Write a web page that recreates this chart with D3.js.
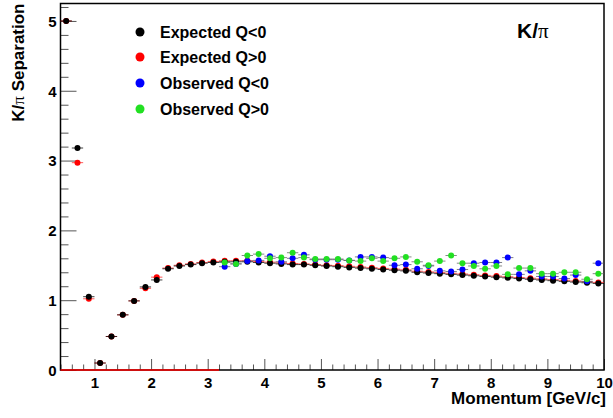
<!DOCTYPE html>
<html>
<head>
<meta charset="utf-8">
<script src="https://cdn.jsdelivr.net/npm/d3@7"></script>
<style>
  html, body { margin: 0; padding: 0; background: #fff; }
  svg { display: block; font-family: "Liberation Sans", Arial, Helvetica, sans-serif; }
</style>
</head>
<body>
<svg id="chart" width="613" height="418"></svg>
<script>
// Bin centres of the momentum histogram [GeV/c]
const momentum = [0.5, 0.7, 0.9, 1.1, 1.3, 1.5, 1.7, 1.9, 2.1, 2.3, 2.5, 2.7, 2.9, 3.1,
  3.3, 3.5, 3.7, 3.9, 4.1, 4.3, 4.5, 4.7, 4.9, 5.1, 5.3, 5.5, 5.7, 5.9, 6.1, 6.3, 6.5,
  6.7, 6.9, 7.1, 7.3, 7.5, 7.7, 7.9, 8.1, 8.3, 8.5, 8.7, 8.9, 9.1, 9.3, 9.5, 9.7, 9.9];
const binHalfWidth = 0.1;

// Expected K/pi separation, negative tracks
const expectedNeg = [5.00, 3.18, 1.05, 0.10, 0.48, 0.79, 0.99, 1.19, 1.29, 1.45, 1.49, 1.51, 1.53, 1.54,
  1.55, 1.55, 1.55, 1.54, 1.53, 1.52, 1.51, 1.51, 1.50, 1.49, 1.48, 1.47, 1.46, 1.45, 1.44, 1.43, 1.42,
  1.40, 1.39, 1.38, 1.37, 1.36, 1.35, 1.34, 1.33, 1.32, 1.31, 1.30, 1.29, 1.28, 1.27, 1.26, 1.25, 1.24];
// Expected K/pi separation, positive tracks
const expectedPos = [5.00, 2.97, 1.02, 0.10, 0.48, 0.79, 0.99, 1.17, 1.33, 1.46, 1.50, 1.52, 1.54, 1.555,
  1.565, 1.565, 1.565, 1.555, 1.545, 1.535, 1.525, 1.52, 1.51, 1.50, 1.495, 1.485, 1.475, 1.465, 1.455, 1.445, 1.435,
  1.415, 1.405, 1.395, 1.385, 1.375, 1.365, 1.355, 1.345, 1.335, 1.325, 1.315, 1.305, 1.295, 1.285, 1.275, 1.265, 1.255];

// Observed separation, available from 3.3 GeV/c upward
const observedMomentum = momentum.slice(14);
const observedNeg = [1.48, 1.52, 1.56, 1.57, 1.63, 1.55, 1.60, 1.65, 1.58, 1.58, 1.58, 1.57, 1.62, 1.62,
  1.61, 1.50, 1.51, 1.45, 1.49, 1.42, 1.41, 1.44, 1.53, 1.54, 1.54, 1.61, 1.37, 1.42, 1.34, 1.34, 1.31, 1.36, 1.27, 1.53];
const observedPos = [1.54, 1.52, 1.64, 1.66, 1.60, 1.61, 1.68, 1.61, 1.59, 1.59, 1.59, 1.57, 1.56, 1.60,
  1.56, 1.60, 1.62, 1.55, 1.50, 1.56, 1.64, 1.53, 1.49, 1.45, 1.49, 1.37, 1.46, 1.46, 1.38, 1.38, 1.40, 1.40, 1.30, 1.38];

// Empty observed bins sit on zero below this momentum
const emptyObservedRange = [0.4, 3.2];

const xDomain = [0.4, 10];
const yDomain = [0, 5.25];
const xTicks = [1, 2, 3, 4, 5, 6, 7, 8, 9, 10];
const yTicks = [0, 1, 2, 3, 4, 5];

const series = [
  { name: "Expected Q<0", color: "#000000", bar: "#000000", x: momentum, y: expectedNeg },
  { name: "Expected Q>0", color: "#ff0000", bar: "#ff2020", x: momentum, y: expectedPos },
  { name: "Observed Q<0", color: "#0000ff", bar: "#505060", x: observedMomentum, y: observedNeg },
  { name: "Observed Q>0", color: "#22e022", bar: "#606060", x: observedMomentum, y: observedPos }
];
// drawing order: red under black, observed on top
const drawOrder = [1, 0, 2, 3];

const svg = d3.select("#chart");
const frame = { left: 60.5, right: 604, top: 3.5, bottom: 370 };

const x = d3.scaleLinear().domain(xDomain).range([frame.left, frame.right]);
const y = d3.scaleLinear().domain(yDomain).range([frame.bottom, frame.top]);

svg.append("rect").attr("width", 613).attr("height", 418).attr("fill", "#fff");

// Axes with inward ticks
const xMinor = d3.range(4, 101, 2).map(v => v / 10).filter(v => v % 1 !== 0);
const yMinor = d3.range(0, 53, 2).map(v => v / 10).filter(v => v % 1 !== 0);

const gx = svg.append("g").attr("transform", `translate(0,${frame.bottom})`);
gx.call(d3.axisBottom(x).tickValues(xMinor).tickSize(-5.5).tickFormat(""))
  .call(g => g.select(".domain").remove());
gx.append("g").call(d3.axisBottom(x).tickValues(xTicks).tickSize(-11).tickPadding(7).tickFormat(d3.format("d")))
  .call(g => g.select(".domain").remove());
gx.selectAll(".tick line").attr("stroke", "#555");
gx.selectAll("text").attr("font-size", 15).attr("font-weight", "bold").attr("fill", "#000");

const gy = svg.append("g").attr("transform", `translate(${frame.left},0)`);
gy.call(d3.axisLeft(y).tickValues(yMinor).tickSize(-8).tickFormat(""))
  .call(g => g.select(".domain").remove());
gy.append("g").call(d3.axisLeft(y).tickValues(yTicks).tickSize(-16).tickPadding(4).tickFormat(d3.format("d")))
  .call(g => g.select(".domain").remove());
gy.selectAll(".tick line").attr("stroke", "#555");
gy.selectAll("text").attr("font-size", 15).attr("font-weight", "bold").attr("fill", "#000")
  .attr("dy", "0.36em");

// Frame
svg.append("rect")
  .attr("x", frame.left).attr("y", frame.top)
  .attr("width", frame.right - frame.left).attr("height", frame.bottom - frame.top)
  .attr("fill", "none").attr("stroke", "#000").attr("stroke-width", 1.5);

// Zero line of the empty observed bins
svg.append("line")
  .attr("x1", x(emptyObservedRange[0])).attr("x2", x(emptyObservedRange[1]))
  .attr("y1", y(0)).attr("y2", y(0))
  .attr("stroke", "#ff0000").attr("stroke-width", 1.6);

// Points with horizontal bin-width error bars
const plot = svg.append("g");
drawOrder.forEach(i => {
  const s = series[i];
  const pts = s.x.map((v, k) => ({ p: v, v: s.y[k] }));
  const g = plot.append("g");
  g.selectAll("line").data(pts).join("line")
    .attr("x1", d => x(d.p - binHalfWidth)).attr("x2", d => x(d.p + binHalfWidth))
    .attr("y1", d => y(d.v)).attr("y2", d => y(d.v))
    .attr("stroke", s.bar).attr("stroke-width", 1).attr("stroke-opacity", 0.75);
  g.selectAll("circle").data(pts).join("circle")
    .attr("cx", d => x(d.p)).attr("cy", d => y(d.v)).attr("r", 3)
    .attr("fill", s.color);
});

// Legend
const legend = svg.append("g");
const legendY = [32, 57, 83, 109];
series.forEach((s, i) => {
  legend.append("circle").attr("cx", 140).attr("cy", legendY[i]).attr("r", 4.5).attr("fill", s.color);
  legend.append("text").attr("x", 160).attr("y", legendY[i]).attr("dy", "0.36em")
    .attr("font-size", 16).attr("font-weight", "bold").text(s.name);
});

// Title label
const title = svg.append("text").attr("x", 517).attr("y", 38)
  .attr("font-size", 21).attr("font-weight", "bold");
title.append("tspan").text("K/");
title.append("tspan").attr("font-weight", "normal").attr("font-family", "'Liberation Serif', serif")
  .text("π");

// Axis titles
svg.append("text").attr("x", frame.right + 2).attr("y", 404)
  .attr("text-anchor", "end").attr("font-size", 17).attr("font-weight", "bold")
  .text("Momentum [GeV/c]");

const yTitle = svg.append("text")
  .attr("transform", `translate(24,${frame.top}) rotate(-90)`)
  .attr("text-anchor", "end").attr("font-size", 17).attr("font-weight", "bold");
yTitle.append("tspan").text("K/");
yTitle.append("tspan").attr("font-weight", "normal").attr("font-family", "'Liberation Serif', serif")
  .text("π");
yTitle.append("tspan").text(" Separation");
</script>
</body>
</html>
